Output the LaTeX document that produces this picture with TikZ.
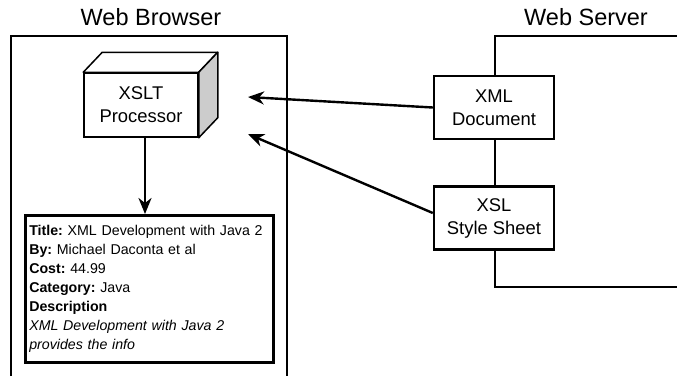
\documentclass[tikz,border=0pt]{standalone}
\usepackage{fontspec}
\setmainfont{Liberation Sans}
\usetikzlibrary{arrows.meta,calc}
\frenchspacing
\begin{document}
\begin{tikzpicture}[x=1pt,y=-1pt,
  frame/.style={line width=2.4pt},
  title/.style={font=\fontsize{23.5}{28}\selectfont},
  docbox/.style={draw, fill=white, line width=2.4pt, minimum width=120pt, minimum height=63pt,
    align=center, inner sep=0pt, font=\fontsize{18.4}{23}\selectfont},
  flow/.style={line width=2.4pt, -{Stealth[length=16pt,width=13pt,inset=5pt]}}]
\useasboundingbox (0,0) rectangle (677,376);

% Web browser frame (open at the bottom)
\draw[frame] (11,376) -- (11,36) -- (287,36) -- (287,376);
\node[title] (browser) at (151,17) {Web Browser};

% Web server frame (open to the right)
\draw[frame] (677,36) -- (495,36) -- (495,287) -- (677,287);
\node[title] (server) at (586,17) {Web Server};

% XSLT processor drawn as a box in perspective
\node[draw, fill=white, line width=1.5pt, minimum width=114pt, minimum height=64pt,
  inner sep=0pt, align=center, font=\fontsize{18.4}{23}\selectfont] (xslt) at (141,105)
  {XSLT\\Processor};
\draw[line width=1.5pt, fill=white, line join=round]
  (xslt.north west) -- ++(19,-20) -- ($(xslt.north east)+(19,-20)$) -- (xslt.north east) -- cycle;
\draw[line width=1.5pt, fill=black!20, line join=round]
  (xslt.north east) -- ++(19,-20) -- ($(xslt.south east)+(19,-20)$) -- (xslt.south east) -- cycle;

% Documents on the server
\node[docbox] (xml) at (494,107.5) {XML\\Document};
\node[docbox] (xsl) at (494,218) {XSL\\Style Sheet};

% Rendered result
\node[draw, line width=2.6pt, anchor=north west, minimum width=248pt, minimum height=147pt,
  text width=240pt, inner xsep=4pt, inner ysep=0pt, align=left,
  font=\fontsize{14.2}{19}\selectfont] (result) at (24,214)
  {\textbf{Title:} XML Development with Java 2\\
   \textbf{By:} Michael Daconta et al\\
   \textbf{Cost:} 44.99\\
   \textbf{Category:} Java\\
   \textbf{Description}\\
   \textit{XML Development with Java 2}\\
   \textit{provides the info}};

% Data flow
\coordinate (in1) at (248,97);
\coordinate (in2) at (248,134);
\coordinate (out) at ($(xslt.south)+(4,0)$);
\draw[flow] (xml.west) -- (in1);
\draw[flow] ($(xsl.west)+(0,-5)$) -- (in2);
\draw[flow] (out) -- (out |- result.north);
\end{tikzpicture}
\end{document}
